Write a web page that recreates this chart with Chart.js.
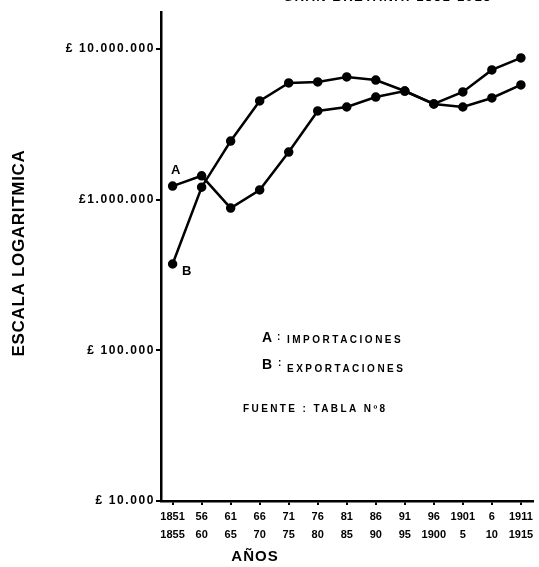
<!DOCTYPE html>
<html>
<head>
<meta charset="utf-8">
<script src="https://cdn.jsdelivr.net/npm/chart.js@4"></script>
<style>
  body { margin: 0; background: #fff; }
  #wrap { width: 539px; height: 567px; position: relative; }
</style>
</head>
<body>
<div id="wrap"><canvas id="tradeChart"></canvas></div>
<script>
// periods (quinquennia) on the x axis
const periods = [
  ['1851', '1855'], ['56', '60'], ['61', '65'], ['66', '70'], ['71', '75'],
  ['76', '80'], ['81', '85'], ['86', '90'], ['91', '95'], ['96', '1900'],
  ['1901', '5'], ['6', '10'], ['1911', '1915']
];
// A: importaciones, B: exportaciones (libras esterlinas)
const importaciones = [1230000, 1440000, 880000, 1160000, 2070000, 3880000, 4120000,
  4800000, 5260000, 4320000, 4120000, 4730000, 5770000];
const exportaciones = [374000, 1210000, 2450000, 4520000, 5950000, 6040000, 6520000,
  6220000, 5260000, 4320000, 5190000, 7260000, 8720000];
const yTicks = [10000, 100000, 1000000, 10000000];
const yTickLabels = ['£ 10.000', '£ 100.000', '£1.000.000', '£ 10.000.000'];

const FONT = "'Liberation Sans', Arial, sans-serif";

function toPoints(values) {
  return values.map((v, i) => ({ x: i, y: v }));
}

function text(ctx, str, x, y, size, spacing, align) {
  ctx.font = 'bold ' + size + 'px ' + FONT;
  ctx.letterSpacing = spacing + 'px';
  ctx.textAlign = align || 'left';
  ctx.fillText(str, x, y);
}

const spacingPlugin = {
  id: 'spacing',
  afterDatasetsDraw(chart) {
    // y tick labels (z: 1) are drawn after this point
    chart.ctx.letterSpacing = '1.6px';
  },
  afterDraw(chart) {
    const ctx = chart.ctx;
    ctx.save();
    ctx.fillStyle = '#000';
    ctx.textBaseline = 'alphabetic';

    // title, cut off by the top edge
    text(ctx, 'GRAN BRETAÑA: 1851-1915', 492, 1, 13, 1.5, 'right');

    ctx.save();
    ctx.translate(19, 253);
    ctx.rotate(-Math.PI / 2);
    ctx.textBaseline = 'middle';
    text(ctx, 'ESCALA LOGARITMICA', 0, 0, 17, 0.7, 'center');
    ctx.restore();

    text(ctx, 'AÑOS', 255, 561, 15, 1, 'center');

    text(ctx, 'A', 171, 174, 13, 0);
    text(ctx, 'B', 182, 275, 13, 0);

    text(ctx, 'A', 262, 342, 14, 0);
    text(ctx, ':', 277, 340, 10, 0);
    text(ctx, 'IMPORTACIONES', 287, 343, 10, 2.5);
    text(ctx, 'B', 262, 369, 14, 0);
    text(ctx, ':', 278, 366, 10, 0);
    text(ctx, 'EXPORTACIONES', 287, 372, 10, 2.5);
    text(ctx, 'FUENTE : TABLA Nº8', 243, 412, 10, 2.4);

    ctx.restore();
    ctx.letterSpacing = '0px';
  }
};

const ctx = document.getElementById('tradeChart').getContext('2d');
new Chart(ctx, {
  type: 'line',
  data: {
    datasets: [
      {
        label: 'A: Importaciones',
        data: toPoints(importaciones),
        borderColor: '#000',
        backgroundColor: '#000',
        borderWidth: 2.5,
        pointRadius: 3.5,
        pointBackgroundColor: '#000',
        tension: 0
      },
      {
        label: 'B: Exportaciones',
        data: toPoints(exportaciones),
        borderColor: '#000',
        backgroundColor: '#000',
        borderWidth: 2.5,
        pointRadius: 3.5,
        pointBackgroundColor: '#000',
        tension: 0
      }
    ]
  },
  options: {
    responsive: true,
    maintainAspectRatio: false,
    animation: false,
    layout: { padding: { top: 12, right: 2, left: 0, bottom: 0 } },
    plugins: {
      legend: { display: false },
      tooltip: { enabled: false }
    },
    scales: {
      x: {
        type: 'linear',
        min: -0.4,
        max: 12.4,
        afterBuildTicks(scale) {
          scale.ticks = periods.map((p, i) => ({ value: i }));
        },
        afterFit(scale) { scale.height = 66; },
        grid: {
          drawOnChartArea: false,
          drawTicks: true,
          tickLength: 4,
          color: '#000',
          lineWidth: 2
        },
        border: { display: true, color: '#000', width: 2.5 },
        ticks: {
          color: '#000',
          padding: 3,
          maxRotation: 0,
          autoSkip: false,
          font: { family: FONT, size: 11, weight: 'bold', lineHeight: 1.64 },
          callback: (v) => periods[v]
        }
      },
      y: {
        type: 'logarithmic',
        min: 10000,
        max: 17600000,
        afterBuildTicks(scale) {
          scale.ticks = yTicks.map(v => ({ value: v }));
        },
        afterFit(scale) { scale.width = 161; },
        grid: {
          drawOnChartArea: false,
          drawTicks: true,
          tickLength: 5,
          color: '#000',
          lineWidth: 2
        },
        border: { display: true, color: '#000', width: 2.5 },
        ticks: {
          z: 1,
          color: '#000',
          padding: 1,
          font: { family: FONT, size: 12, weight: 'bold' },
          callback: (v) => {
            const i = yTicks.indexOf(v);
            return i >= 0 ? yTickLabels[i] : '';
          }
        }
      }
    }
  },
  plugins: [spacingPlugin]
});
</script>
</body>
</html>
